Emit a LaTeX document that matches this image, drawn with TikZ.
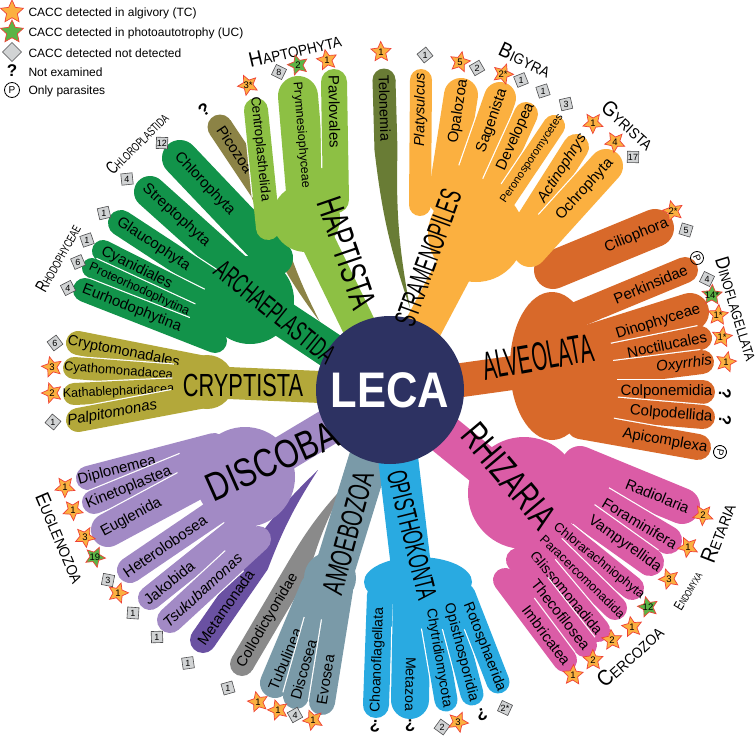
\documentclass[tikz,border=0pt]{standalone}
\usepackage{fontspec}
\setmainfont{Liberation Sans}
\usetikzlibrary{calc, shapes.geometric}

\definecolor{archc}{HTML}{12934A}
\definecolor{haptc}{HTML}{8DC044}
\definecolor{picoc}{HTML}{8C8346}
\definecolor{telc}{HTML}{697C35}
\definecolor{stramc}{HTML}{FBB040}
\definecolor{alvc}{HTML}{D8692A}
\definecolor{rhizc}{HTML}{DB5CA6}
\definecolor{opisc}{HTML}{29AAE1}
\definecolor{amoec}{HTML}{7A9AA8}
\definecolor{collc}{HTML}{8A8A8A}
\definecolor{metac}{HTML}{6A51A2}
\definecolor{discc}{HTML}{A28AC5}
\definecolor{cryptc}{HTML}{B3A83A}
\definecolor{lecac}{HTML}{2D3262}
\definecolor{starfill}{HTML}{FBB040}
\definecolor{starline}{HTML}{EF4136}
\definecolor{greenfill}{HTML}{5BB446}
\definecolor{sqfill}{HTML}{D1D3D4}
\definecolor{sqline}{HTML}{4D4D4F}

\newcommand{\fsz}[1]{\fontsize{#1}{#1}\selectfont}
% small-caps group label: first letter, rest, big size, small size
\newcommand{\sclab}[4]{{\fsz{#3}#1}{\fsz{#4}#2}}
% marker text that does not grow its shape
\newcommand{\z}[1]{\makebox[0pt]{\raisebox{-.35em}[0pt][0pt]{#1}}}
% tapered branch: colour, round end, joint, tip, half width, bend
\newcommand{\spike}[6]{%
  \fill[#1] ($(#2)!#5!90:(#3)$) -- ($(#3)!#5!-90:(#2)$) to[bend right=#6] (#4)
    to[bend left=#6] ($(#3)!#5!90:(#2)$) -- ($(#2)!#5!-90:(#3)$) -- cycle;
  \fill[#1] (#2) circle[radius=#5];}

\begin{document}
\begin{tikzpicture}[x=1pt, y=-1pt,
  % branch drawn from base to tip (white slit beside it)
  finger/.style={line width=#1, line cap=round,
    preaction={draw=white, line width=#1+2.4pt, line cap=butt, shorten <=32pt}},
  % branch drawn from tip to base
  fingerin/.style={line width=#1, line cap=round,
    preaction={draw=white, line width=#1+2.4pt, line cap=butt, shorten >=32pt}},
  stem/.style={line width=#1},
  flab/.style={sloped, allow upside down, inner sep=0pt, text=black, font=\fsz{15}},
  glab/.style={inner sep=0pt, text=black, font=\fsz{#1}},
  tc/.style={star, star points=5, star point ratio=2.1, minimum size=21pt,
    inner sep=0pt, fill=starfill, draw=starline, line width=0.7pt,
    font=\fsz{9.5}, shape border rotate=#1},
  uc/.style={tc=#1, fill=greenfill},
  nd/.style={regular polygon, regular polygon sides=4, minimum size=16pt,
    inner sep=0pt, fill=sqfill, draw=sqline, line width=0.6pt,
    font=\fsz{9}, shape border rotate=#1},
  nq/.style={inner sep=0pt, font=\fsz{17}\bfseries, rotate=#1},
  np/.style={circle, draw, line width=0.8pt, inner sep=0pt, minimum size=13pt,
    font=\fsz{10}, rotate=#1},
]

% Canvas
\useasboundingbox (0,0) rectangle (756,736);
\fill[white] (0,0) rectangle (756,736);

% =============================================
% Legend
% =============================================
\node[tc=0, minimum size=24pt] (ltc) at (12,12) {};
\node[anchor=west, font=\fsz{12}] (lttc) at (25,13) {CACC detected in algivory (TC)};
\node[uc=0, minimum size=24pt] (luc) at (12,32) {};
\node[anchor=west, font=\fsz{12}] (ltuc) at (25,33) {CACC detected in photoautotrophy (UC)};
\node[nd=45, minimum size=19pt] (lnd) at (12,52) {};
\node[anchor=west, font=\fsz{12}] (ltnd) at (25,53) {CACC detected not detected};
\node[nq=0] (lnq) at (12,71) {?};
\node[anchor=west, font=\fsz{12}] (ltnq) at (25,72) {Not examined};
\node[np=0, minimum size=15pt] (lnp) at (12,90) {P};
\node[anchor=west, font=\fsz{12}] (ltnp) at (25,91) {Only parasites};

% =============================================
% Single tapered lineages
% =============================================
\spike{picoc}{220,127}{262,190}{320,322}{12.5pt}{8}
\path (220,127) -- (262,190) node[flab, pos=.36] {Picozoa};
\spike{telc}{384,80}{386,150}{410,308}{11.5pt}{6}
\path (384,80) -- (386,150) node[flab, pos=.4, font=\fsz{14.5}] {Telonemia};
\spike{metac}{203,640}{257,562}{318,470}{13pt}{-6}
\path (203,640) -- (257,562) node[flab, pos=.42] {Metamonada};
\spike{collc}{242,664}{298,569}{345,485}{12pt}{-6}
\path (242,664) -- (298,569) node[flab, pos=.46, font=\fsz{14.5}] {Collodictyonidae};

% =============================================
% Archaeplastida
% =============================================
\draw[archc, stem=36pt] (390,390) -- (250,297);
\fill[archc] (250,300) circle[radius=44pt];
\draw[archc, fingerin=36pt] (180,158) -- (275,258) node[flab, pos=.26] {Chlorophyta};
\draw[archc, fingerin=32pt] (150,192) -- (247,279) node[flab, pos=.27] {Streptophyta};
\draw[archc, fingerin=26pt] (121,223) -- (237,299) node[flab, pos=.28] {Glaucophyta};
\draw[archc, fingerin=22pt] (103,251) -- (228,314) node[flab, pos=.27] {Cyanidiales};
\draw[archc, fingerin=20pt] (92,268) -- (220,327) node[flab, pos=.37, font=\fsz{12.5}] {Proteorhodophytina};
\draw[archc, fingerin=24pt] (85,290) -- (215,341) node[flab, pos=.36] {Eurhodophytina};

% =============================================
% Cryptista
% =============================================
\draw[cryptc, stem=32pt] (390,390) -- (205,382);
\fill[cryptc] (207,382) circle[radius=27pt];
\draw[cryptc, fingerin=24pt] (78,343) -- (205,368) node[flab, pos=.36, font=\fsz{14.5}] {Cryptomonadales};
\draw[cryptc, fingerin=22pt] (74,368) -- (205,378) node[flab, pos=.34, font=\fsz{13}] {Cyathomonadacea};
\draw[cryptc, fingerin=22pt] (74,394) -- (205,388) node[flab, pos=.34, font=\fsz{12.5}] {Kathablepharidacea};
\draw[cryptc, fingerin=24pt] (78,420) -- (205,396) node[flab, pos=.27, font=\fsz{15}\itshape] {Palpitomonas};

% =============================================
% Discoba
% =============================================
\draw[discc, stem=36pt] (390,390) -- (243,478);
\fill[discc] (245,477) circle[radius=50pt];
\draw[discc, fingerin=24pt] (88,478) -- (214,445) node[flab, pos=.23] {Diplonemea};
\draw[discc, fingerin=24pt] (94,502) -- (214,453) node[flab, pos=.29] {Kinetoplastea};
\draw[discc, fingerin=34pt] (108,530) -- (214,473) node[flab, pos=.22] {Euglenida};
\draw[discc, fingerin=26pt] (130,570) -- (230,502) node[flab, pos=.35] {Heterolobosea};
\draw[discc, fingerin=24pt] (150,598) -- (245,522) node[flab, pos=.2] {Jakobida};
\draw[discc, fingerin=26pt] (170,620) -- (258,539) node[flab, pos=.37, font=\fsz{15}\itshape] {Tsukubamonas};

% =============================================
% Amoebozoa
% =============================================
\draw[amoec, stem=40pt] (390,390) -- (332,578);
\fill[amoec] (330,578) circle[radius=26pt];
\draw[amoec, fingerin=30pt] (275,683) -- (315,588) node[flab, pos=.25] {Tubulinea};
\draw[amoec, fingerin=26pt] (296,696) -- (326,590) node[flab, pos=.25] {Discosea};
\draw[amoec, fingerin=26pt] (322,702) -- (340,590) node[flab, pos=.2] {Evosea};

% =============================================
% Opisthokonta
% =============================================
\draw[opisc, stem=40pt] (390,390) -- (412,575);
\fill[opisc] (418,582) ellipse[x radius=54pt, y radius=25pt];
\draw[opisc, fingerin=26pt] (376,705) -- (380,595) node[flab, pos=.41, font=\fsz{14}] {Choanoflagellata};
\draw[opisc, finger=38pt] (412,595) -- (410,700) node[flab, pos=.85, font=\fsz{14}] {Metazoa};
\draw[opisc, finger=23pt] (428,595) -- (446,700) node[flab, pos=.6, font=\fsz{14}] {Chytridiomycota};
\draw[opisc, finger=23pt] (446,595) -- (472,694) node[flab, pos=.58, font=\fsz{14.5}] {Opisthosporidia};
\draw[opisc, finger=23pt] (464,595) -- (498,682) node[flab, pos=.6, font=\fsz{14.5}] {Rotosphaerida};

% =============================================
% Rhizaria
% =============================================
\draw[rhizc, stem=40pt] (390,390) -- (525,500);
\fill[rhizc] (524,493) circle[radius=56pt];
\draw[rhizc, finger=36pt] (580,464) -- (682,506) node[flab, pos=.76] {Radiolaria};
\draw[rhizc, finger=28pt] (574,484) -- (668,540) node[flab, pos=.7] {Foraminifera};
\draw[rhizc, finger=28pt] (560,498) -- (650,562) node[flab, pos=.72] {Vampyrellida};
\draw[rhizc, finger=24pt] (540,514) -- (632,588) node[flab, pos=.64, font=\fsz{13}] {Chlorarachniophyta};
\draw[rhizc, finger=24pt] (530,525) -- (615,608) node[flab, pos=.62, font=\fsz{12.6}] {Paracercomonadida};
\draw[rhizc, finger=24pt] (525,543) -- (598,630) node[flab, pos=.57, font=\fsz{14.5}] {Glissomonadida};
\draw[rhizc, finger=24pt] (518,560) -- (585,645) node[flab, pos=.64] {Thecofilosea};
\draw[rhizc, finger=24pt] (505,580) -- (565,660) node[flab, pos=.69] {Imbricatea};

% =============================================
% Alveolata
% =============================================
\draw[alvc, stem=34pt] (390,390) -- (548,368);
\fill[alvc] (552,366) ellipse[x radius=42pt, y radius=74pt];
\draw[alvc, finger=38pt] (553,270) -- (655,228) node[flab, pos=.82] {Ciliophora};
\draw[alvc, finger=26pt] (574,316) -- (685,270) node[flab, pos=.69] {Perkinsidae};
\draw[alvc, finger=38pt] (576,348) -- (690,312) node[flab, pos=.72] {Dinophyceae};
\draw[alvc, finger=24pt] (582,362) -- (700,338) node[flab, pos=.72] {Noctilucales};
\draw[alvc, finger=24pt] (583,377) -- (702,362) node[flab, pos=.85, font=\fsz{15}\itshape] {Oxyrrhis};
\draw[alvc, finger=24pt] (585,392) -- (703,392) node[flab, pos=.69] {Colponemidia};
\draw[alvc, finger=24pt] (585,407) -- (703,417) node[flab, pos=.73] {Colpodellida};
\draw[alvc, finger=26pt] (580,426) -- (698,447) node[flab, pos=.72] {Apicomplexa};

% =============================================
% Stramenopiles
% =============================================
\draw[stramc, stem=38pt] (390,390) -- (472,235);
\fill[stramc] (476,234) circle[radius=48pt];
\draw[stramc, finger=22pt] (420,205) -- (421,80) node[flab, pos=.76, font=\fsz{14.5}\itshape] {Platysulcus};
\draw[stramc, finger=34pt] (445,198) -- (461,95) node[flab, pos=.84] {Opalozoa};
\draw[stramc, finger=32pt] (464,201) -- (500,98) node[flab, pos=.78] {Sagenista};
\draw[stramc, finger=24pt] (481,213) -- (526,114) node[flab, pos=.77] {Developea};
\draw[stramc, finger=22pt] (493,217) -- (554,126) node[flab, pos=.64, font=\fsz{11}] {Peronosporomycetes};
\draw[stramc, finger=26pt] (517,240) -- (576,147) node[flab, pos=.77, font=\fsz{15}\itshape] {Actinophrys};
\draw[stramc, finger=34pt] (530,250) -- (606,166) node[flab, pos=.72] {Ochrophyta};

% =============================================
% Haptista
% =============================================
\draw[haptc, stem=34pt] (390,390) -- (305,215);
\fill[haptc] (306,218) circle[radius=34pt];
\draw[haptc, fingerin=24pt] (256,110) -- (268,228) node[flab, pos=.33, font=\fsz{13.5}] {Centroplasthelida};
\draw[haptc, fingerin=40pt] (298,96) -- (308,215) node[flab, pos=.33, font=\fsz{12.5}] {Prymnesiophyceae};
\draw[haptc, fingerin=26pt] (334,82) -- (336,200) node[flab, pos=.25] {Pavlovales};

% =============================================
% LECA
% =============================================
\node[circle, fill=lecac, minimum size=148pt, inner sep=0pt, text=white,
  font=\fsz{50}\bfseries] (leca) at (390,390) {\scalebox{0.87}[1]{LECA}};

% Supergroup names
\node[glab=28, rotate=-39] (archlab) at (275,312) {\scalebox{0.58}[1]{ARCHAEPLASTIDA}};
\node[glab=32] (cryptlab) at (243,385) {\scalebox{0.68}[1]{CRYPTISTA}};
\node[glab=40, rotate=24] (disclab) at (272,461) {\scalebox{0.78}[1]{DISCOBA}};
\node[glab=30, rotate=75] (amoelab) at (348,533) {\scalebox{0.65}[1]{AMOEBOZOA}};
\node[glab=28, rotate=-76] (opislab) at (412,535) {\scalebox{0.6}[1]{OPISTHOKONTA}};
\node[glab=38, rotate=-50] (rhizlab) at (509,476) {\scalebox{0.7}[1]{RHIZARIA}};
\node[glab=40, rotate=10] (alvlab) at (538,357) {\scalebox{0.5}[1]{ALVEOLATA}};
\node[glab=30, rotate=70] (stramlab) at (428,258) {\scalebox{0.56}[1]{STRAMENOPILES}};
\node[glab=36, rotate=-71] (haptlab) at (347,253) {\scalebox{0.67}[1]{HAPTISTA}};

% Clade names
\node[inner sep=0pt, rotate=-25] (bigyra) at (525,60) {\scalebox{0.9}[1]{\sclab{B}{IGYRA}{21}{15}}};
\node[inner sep=0pt, rotate=-42] (gyrista) at (628,125) {\scalebox{0.9}[1]{\sclab{G}{YRISTA}{21}{15}}};
\node[inner sep=0pt, rotate=13] (haptophyta) at (295,50) {\scalebox{0.9}[1]{\sclab{H}{APTOPHYTA}{21}{15}}};
\node[inner sep=0pt, rotate=45] (chloropl) at (137,143) {\scalebox{0.7}[1]{\sclab{C}{HLOROPLASTIDA}{18}{12}}};
\node[inner sep=0pt, rotate=61] (rhodoph) at (58,258) {\scalebox{0.7}[1]{\sclab{R}{HODOPHYCEAE}{18}{12}}};
\node[inner sep=0pt, rotate=-67] (euglenoz) at (60,538) {\scalebox{0.9}[1]{\sclab{E}{UGLENOZOA}{20}{15}}};
\node[inner sep=0pt, rotate=-73] (dinofl) at (737,309) {\scalebox{0.85}[1]{\sclab{D}{INOFLAGELLATA}{20}{14}}};
\node[inner sep=0pt, rotate=69] (retaria) at (718,533) {\scalebox{0.9}[1]{\sclab{R}{ETARIA}{22}{15}}};
\node[inner sep=0pt, rotate=59] (endomyxa) at (688,591) {\scalebox{0.7}[1]{\sclab{E}{NDOMYXA}{14}{10}}};
\node[inner sep=0pt, rotate=42] (cercozoa) at (630,656) {\scalebox{0.9}[1]{\sclab{C}{ERCOZOA}{22}{15}}};

% =============================================
% Markers
% =============================================
% Telonemia, Stramenopiles
\node[tc=1.5] (m1) at (381,52) {\z{1}};
\node[nd=39] (m2) at (425,55) {\z{1}};
\node[tc=-12] (m3) at (460,62) {\z{5}};
\node[nd=30] (m4) at (477,68) {\z{2}};
\node[tc=-20] (m5) at (503,74) {\z{2*}};
\node[nd=22] (m6) at (521,80) {\z{1}};
\node[nd=18] (m7) at (543,91) {\z{1}};
\node[nd=13] (m8) at (566,104) {\z{3}};
\node[tc=-37] (m9) at (593,123) {\z{1}};
\node[tc=-42] (m10) at (615,142) {\z{4}};
\node[nd=-1] (m11) at (633,157) {\z{17}};
% Haptista, Picozoa
\node[tc=25] (m12) at (248,85) {\z{3*}};
\node[nd=-26] (m13) at (279,72) {\z{8}};
\node[uc=16] (m14) at (298,65) {\z{2}};
\node[tc=11] (m15) at (327,60) {\z{1}};
\node[nq=34] (m16) at (204,110) {?};
% Archaeplastida
\node[nd=-2] (m17) at (162,143) {\z{12}};
\node[nd=6] (m18) at (127,179) {\z{4}};
\node[nd=13] (m19) at (104,213) {\z{1}};
\node[nd=19] (m20) at (87,240) {\z{1}};
\node[nd=23] (m21) at (78,262) {\z{6}};
\node[nd=27] (m22) at (68,288) {\z{4}};
% Cryptista
\node[nd=37] (m23) at (55,343) {\z{6}};
\node[tc=86] (m24) at (52,367) {\z{3}};
\node[tc=90] (m25) at (52,393) {\z{2}};
\node[nd=-40] (m26) at (53,422) {\z{1}};
% Discoba, Metamonada, Collodictyonidae
\node[tc=107] (m27) at (65,487) {\z{1}};
\node[tc=111] (m28) at (73,510) {\z{1}};
\node[tc=116] (m29) at (85,537) {\z{3}};
\node[uc=120] (m30) at (95,557) {\z{19}};
\node[nd=-11] (m31) at (108,580) {\z{3}};
\node[tc=127] (m32) at (118,593) {\z{1}};
\node[nd=-4] (m33) at (133,613) {\z{1}};
\node[nd=2] (m34) at (157,637) {\z{1}};
\node[nd=8] (m35) at (188,663) {\z{1}};
\node[nd=16] (m36) at (228,688) {\z{1}};
% Amoebozoa
\node[tc=157] (m37) at (258,702) {\z{1}};
\node[tc=161] (m38) at (278,710) {\z{1}};
\node[nd=29] (m39) at (295,715) {\z{4}};
\node[tc=167] (m40) at (313,720) {\z{1}};
% Opisthokonta
\node[nq=-182] (m41) at (375,726) {?};
\node[nq=-177] (m42) at (410,726) {?};
\node[nd=-36] (m43) at (442,727) {\z{2}};
\node[tc=-168] (m44) at (458,722) {\z{3}};
\node[nq=-164] (m45) at (482,715) {?};
\node[nd=-25] (m46) at (505,708) {\z{2*}};
% Rhizaria
\node[tc=-147] (m47) at (573,675) {\z{1}};
\node[tc=-143] (m48) at (593,660) {\z{2}};
\node[tc=-138] (m49) at (612,640) {\z{2}};
\node[tc=-134] (m50) at (632,627) {\z{1}};
\node[uc=-130] (m51) at (648,607) {\z{12}};
\node[tc=-124] (m52) at (669,579) {\z{3}};
\node[tc=-118] (m53) at (688,547) {\z{1}};
\node[tc=-112] (m54) at (703,515) {\z{2}};
% Alveolata
\node[tc=-58] (m55) at (673,211) {\z{2*}};
\node[nd=-17] (m56) at (686,230) {\z{5}};
\node[np=-67] (m57) at (697,258) {P};
\node[nd=-26] (m58) at (707,279) {\z{4}};
\node[uc=-74] (m59) at (712,295) {\z{14*}};
\node[tc=-77] (m60) at (718,315) {\z{1*}};
\node[tc=-81] (m61) at (722,337) {\z{1*}};
\node[tc=-85] (m62) at (726,362) {\z{1}};
\node[nq=-91] (m63) at (725,394) {?};
\node[nq=-95] (m64) at (725,420) {?};
\node[np=-101] (m65) at (720,452) {P};

\end{tikzpicture}
\end{document}
